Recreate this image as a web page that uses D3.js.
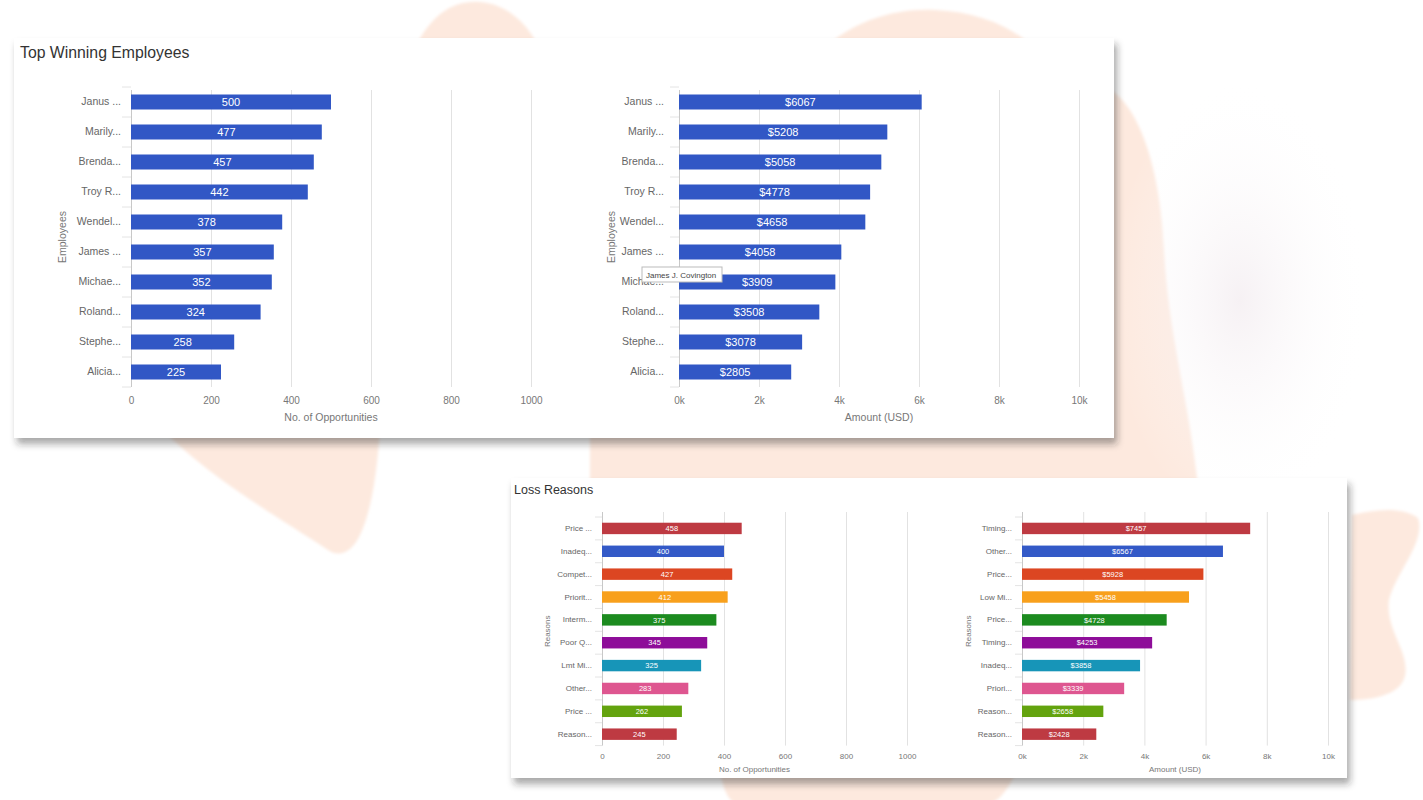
<!DOCTYPE html>
<html>
<head>
<meta charset="utf-8">
<script src="https://cdn.jsdelivr.net/npm/d3@7"></script>
<style>
  body { margin: 0; background: #fff; }
  svg { display: block; font-family: 'Liberation Sans', Arial, sans-serif; }
</style>
</head>
<body>
<svg width="1423" height="800"></svg>
<script>
// ---- data ----
const employees = ['Janus ...', 'Marily...', 'Brenda...', 'Troy R...', 'Wendel...', 'James ...', 'Michae...', 'Roland...', 'Stephe...', 'Alicia...']
const employeeOpportunities = [500, 477, 457, 442, 378, 357, 352, 324, 258, 225]
const employeeAmounts = [6067, 5208, 5058, 4778, 4658, 4058, 3909, 3508, 3078, 2805]

const reasonsByCount = ['Price ...', 'Inadeq...', 'Compet...', 'Priorit...', 'Interm...', 'Poor Q...', 'Lmt Mi...', 'Other...', 'Price ...', 'Reason...']
const reasonCounts = [458, 400, 427, 412, 375, 345, 325, 283, 262, 245]
const reasonsByAmount = ['Timing...', 'Other...', 'Price...', 'Low Mi...', 'Price...', 'Timing...', 'Inadeq...', 'Priori...', 'Reason...', 'Reason...']
const reasonAmounts = [7457, 6567, 5928, 5458, 4728, 4253, 3858, 3339, 2658, 2428]

const countTicks = [0, 200, 400, 600, 800, 1000]
const amountTicks = [0, 2000, 4000, 6000, 8000, 10000]

const employeeColor = '#3157c5'
const reasonColors = ['#be3a42', '#3359c7', '#dc4622', '#f8a01c', '#1c8b1f', '#8e0d99', '#1795b8', '#de5690', '#63a30e', '#be3a42']

const svg = d3.select('svg')
const defs = svg.append('defs')

// soft shadow under the cards
const shadow = defs.append('filter').attr('id', 'cardShadow')
  .attr('x', '-5%').attr('y', '-5%').attr('width', '115%').attr('height', '120%')
shadow.append('feDropShadow')
  .attr('dx', 3).attr('dy', 6).attr('stdDeviation', 3.5)
  .attr('flood-color', '#2a2420').attr('flood-opacity', 0.4)

const soft = defs.append('filter').attr('id', 'soft')
soft.append('feGaussianBlur').attr('stdDeviation', 1.5)

const haze = defs.append('radialGradient').attr('id', 'haze')
haze.append('stop').attr('offset', '0%').attr('stop-color', '#f2ebef').attr('stop-opacity', 0.7)
haze.append('stop').attr('offset', '100%').attr('stop-color', '#ffffff').attr('stop-opacity', 0)

// ---- background decoration ----
const bg = svg.append('g')
const peach = '#fde9de'
const blobs = [
  'M 410 60 C 428 12, 456 0, 480 2 C 506 4, 530 22, 545 60 Z',
  'M 812 60 C 850 18, 900 8, 935 10 C 980 12, 1020 28, 1045 60 Z',
  'M 163 430 L 380 430 C 377 470, 372 510, 360 535 C 352 552, 340 558, 328 550 C 280 518, 212 480, 163 430 Z',
  'M 590 430 L 1100 430 L 1100 85 C 1135 95, 1160 160, 1164 250 C 1168 330, 1188 400, 1196 470 L 1200 500 L 1012 780 C 1002 800, 990 806, 980 806 L 738 806 C 728 800, 724 790, 722 780 L 590 480 Z',
  'M 1352 515 C 1375 510, 1400 506, 1418 518 C 1426 542, 1396 572, 1389 600 C 1385 630, 1410 652, 1405 676 C 1400 696, 1370 700, 1350 700 Z'
]
bg.selectAll('path.blob').data(blobs).join('path')
  .attr('class', 'blob')
  .attr('d', d => d)
  .attr('fill', peach)
  .attr('filter', 'url(#soft)')

bg.append('ellipse')
  .attr('cx', 1240).attr('cy', 300).attr('rx', 130).attr('ry', 220)
  .attr('fill', 'url(#haze)')

// ---- cards ----
function drawCard (x, y, w, h, title, titleSize, titleX) {
  const card = svg.append('g')
  card.append('rect')
    .attr('x', x).attr('y', y).attr('width', w).attr('height', h)
    .attr('fill', '#fff')
    .attr('filter', 'url(#cardShadow)')
  card.append('text')
    .attr('x', titleX).attr('y', y + 19 * titleSize / 15)
    .attr('font-size', titleSize)
    .attr('fill', '#333')
    .text(title)
  return card
}

function drawBars (g, cfg) {
  const x = d3.scaleLinear().domain([0, cfg.ticks[cfg.ticks.length - 1]]).range([cfg.left, cfg.right])
  const y = d3.scaleBand().domain(d3.range(cfg.labels.length))
    .range([cfg.top, cfg.bottom]).paddingInner(0.5).paddingOuter(0.25)

  // vertical gridlines + tick labels
  const axis = g.append('g')
    .attr('transform', 'translate(0,' + cfg.bottom + ')')
    .call(d3.axisBottom(x)
      .tickValues(cfg.ticks)
      .tickFormat(cfg.tickFormat)
      .tickSize(-(cfg.bottom - cfg.gridTop))
      .tickPadding(cfg.tickPad))
  axis.select('.domain').remove()
  axis.selectAll('line').attr('stroke', d => d === 0 ? '#c8c8c8' : '#e2e2e2')
  axis.selectAll('text')
    .attr('fill', '#777')
    .attr('font-size', cfg.tickSize)
    .attr('font-family', 'Liberation Sans, Arial, sans-serif')

  // small marks between categories
  g.append('g').selectAll('line')
    .data(d3.range(cfg.labels.length + 1))
    .join('line')
    .attr('x1', cfg.left - cfg.markLen).attr('x2', cfg.left)
    .attr('y1', i => cfg.top + i * y.step())
    .attr('y2', i => cfg.top + i * y.step())
    .attr('stroke', '#e4e4e4')

  // category labels
  const yAxis = g.append('g')
    .attr('transform', 'translate(' + cfg.left + ',0)')
    .call(d3.axisLeft(y).tickSize(0).tickPadding(cfg.labelPad).tickFormat(i => cfg.labels[i]))
  yAxis.select('.domain').remove()
  yAxis.selectAll('text')
    .attr('fill', '#666')
    .attr('font-size', cfg.labelSize)
    .attr('font-family', 'Liberation Sans, Arial, sans-serif')

  g.append('g').selectAll('rect')
    .data(cfg.values)
    .join('rect')
    .attr('x', x(0))
    .attr('y', (d, i) => y(i))
    .attr('width', d => x(d) - x(0))
    .attr('height', y.bandwidth())
    .attr('fill', (d, i) => cfg.colors[i])

  g.append('g').selectAll('text')
    .data(cfg.values)
    .join('text')
    .attr('x', d => (x(0) + x(d)) / 2)
    .attr('y', (d, i) => y(i) + y.bandwidth() / 2)
    .attr('dy', '0.36em')
    .attr('text-anchor', 'middle')
    .attr('font-size', cfg.valueSize)
    .attr('fill', '#fff')
    .text(cfg.valueFormat)

  g.append('text')
    .attr('x', (cfg.left + cfg.right) / 2)
    .attr('y', cfg.titleY)
    .attr('text-anchor', 'middle')
    .attr('font-size', cfg.titleSize)
    .attr('fill', '#777')
    .text(cfg.axisTitle)

  g.append('text')
    .attr('transform', 'translate(' + cfg.yTitleX + ',' + (cfg.top + cfg.bottom) / 2 + ') rotate(-90)')
    .attr('text-anchor', 'middle')
    .attr('font-size', cfg.titleSize)
    .attr('fill', '#777')
    .text(cfg.yTitle)
}

const kFormat = d => (d / 1000) + 'k'
const usd = d => '$' + d

const topCard = drawCard(14, 38, 1100, 400, 'Top Winning Employees', 15.8, 20)
const bigStyle = {
  top: 87, bottom: 387, gridTop: 90, tickPad: 10, tickSize: 10, labelSize: 10.5,
  labelPad: 10, markLen: 9, valueSize: 11, titleSize: 10.5, titleY: 421
}
drawBars(topCard, Object.assign({}, bigStyle, {
  labels: employees, values: employeeOpportunities, colors: employees.map(() => employeeColor),
  left: 131, right: 531, ticks: countTicks, tickFormat: d3.format('d'), valueFormat: d => d,
  axisTitle: 'No. of Opportunities', yTitle: 'Employees', yTitleX: 66
}))
drawBars(topCard, Object.assign({}, bigStyle, {
  labels: employees, values: employeeAmounts, colors: employees.map(() => employeeColor),
  left: 679, right: 1079, ticks: amountTicks, tickFormat: kFormat, valueFormat: usd,
  axisTitle: 'Amount (USD)', yTitle: 'Employees', yTitleX: 615, labelPad: 15
}))

// hover tooltip caught in the screenshot
const tip = topCard.append('g').attr('transform', 'translate(642,267)')
tip.append('rect').attr('width', 80).attr('height', 15)
  .attr('fill', '#fff').attr('stroke', '#bbb')
tip.append('text').attr('x', 4).attr('y', 10.5)
  .attr('font-size', 8).attr('fill', '#444')
  .text('James J. Covington')

const bottomCard = drawCard(511, 478, 836, 300, 'Loss Reasons', 12.5, 514)
const smallStyle = {
  top: 517, bottom: 745.6, gridTop: 512, tickPad: 8, tickSize: 8, labelSize: 8,
  labelPad: 10, markLen: 7, valueSize: 7.5, titleSize: 8, titleY: 772
}
drawBars(bottomCard, Object.assign({}, smallStyle, {
  labels: reasonsByCount, values: reasonCounts, colors: reasonColors,
  left: 602, right: 907, ticks: countTicks, tickFormat: d3.format('d'), valueFormat: d => d,
  axisTitle: 'No. of Opportunities', yTitle: 'Reasons', yTitleX: 550
}))
drawBars(bottomCard, Object.assign({}, smallStyle, {
  labels: reasonsByAmount, values: reasonAmounts, colors: reasonColors,
  left: 1022, right: 1328, ticks: amountTicks, tickFormat: kFormat, valueFormat: usd,
  axisTitle: 'Amount (USD)', yTitle: 'Reasons', yTitleX: 971
}))
</script>
</body>
</html>
